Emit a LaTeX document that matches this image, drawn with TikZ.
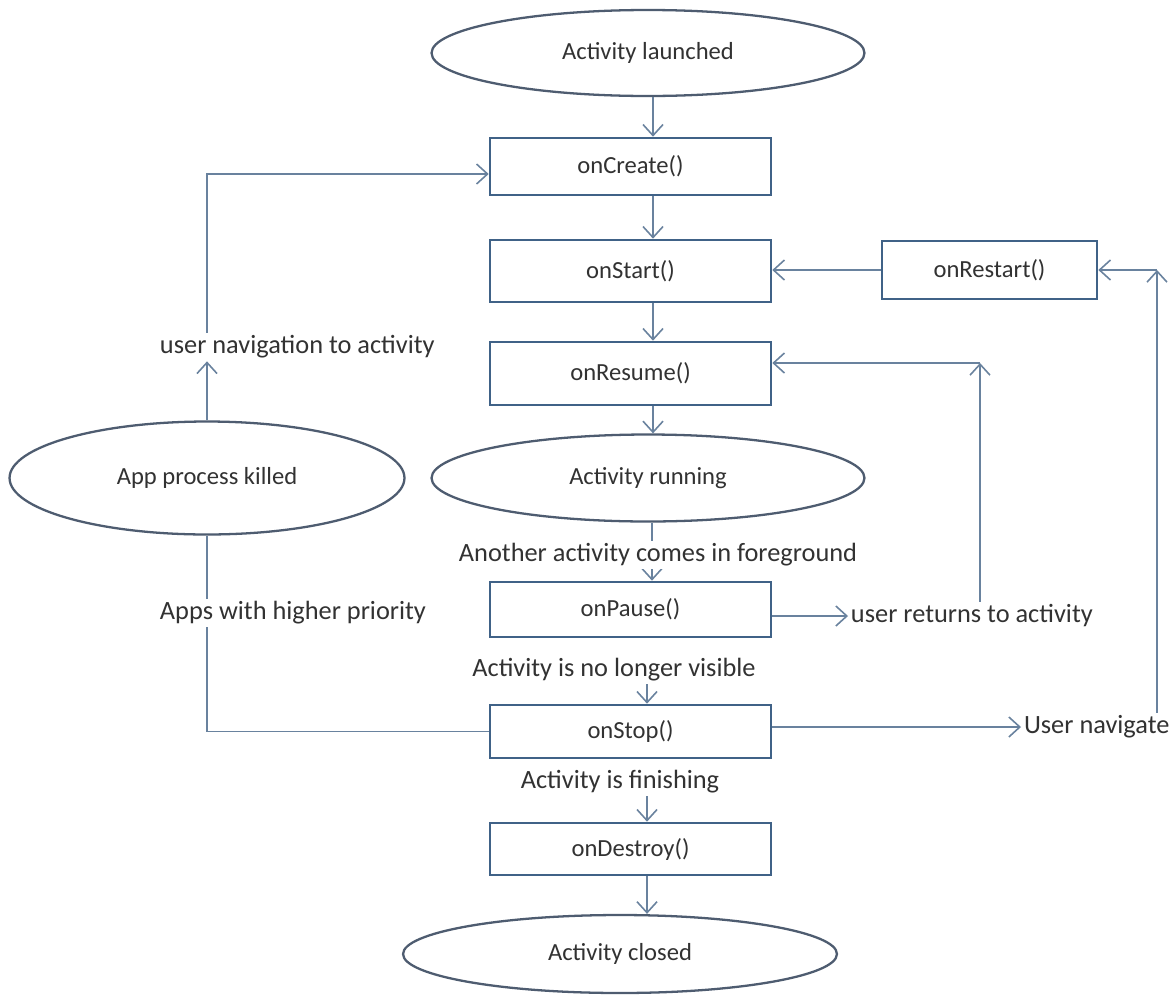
\documentclass[tikz,border=0pt]{standalone}
\usepackage{fontspec}
\setmainfont{Carlito}
\usetikzlibrary{shapes.geometric,arrows.meta}

\definecolor{boxline}{RGB}{64,98,135}
\definecolor{ovalline}{RGB}{78,92,112}
\definecolor{wire}{RGB}{105,130,158}
\definecolor{ink}{RGB}{50,50,50}

\tikzset{
  box/.style={draw=boxline, line width=1.5pt, fill=white, text=ink,
    minimum width=5.62cm, font=\fontsize{14}{17}\selectfont},
  oval/.style={ellipse, draw=ovalline, line width=1.3pt, fill=white, text=ink,
    inner sep=0pt, font=\fontsize{14}{17}\selectfont},
  lbl/.style={fill=white, text=ink, inner sep=1.5pt, font=\fontsize{15}{18}\selectfont},
  link/.style={draw=wire, line width=0.9pt},
  arr/.style={link, -{Straight Barb[length=2.2mm,width=4mm]}}
}

\begin{document}
\begin{tikzpicture}[x=0.02cm, y=-0.02cm]
  \fill[white] (0,0) rectangle (1169,994);
  \useasboundingbox (0,0) rectangle (1169,994);

  % Main column
  \node[oval, minimum width=8.66cm, minimum height=1.72cm] (launch) at (648,53) {Activity launched};
  \node[box, minimum height=1.14cm] (create) at (630.5,166.5) {onCreate()};
  \node[box, minimum height=1.24cm] (start) at (630.5,271) {onStart()};
  \node[box, minimum height=1.26cm] (resume) at (630.5,373.5) {onResume()};
  \node[oval, minimum width=8.66cm, minimum height=1.74cm] (run) at (648,478) {Activity running};
  \node[box, minimum height=1.1cm] (pause) at (630.5,609.5) {onPause()};
  \node[box, minimum height=1.06cm] (stop) at (630.5,731.5) {onStop()};
  \node[box, minimum height=1.04cm] (destroy) at (630.5,849) {onDestroy()};
  \node[oval, minimum width=8.68cm, minimum height=1.56cm] (closed) at (620,954) {Activity closed};

  % Side nodes
  \node[box, minimum width=4.3cm, minimum height=1.16cm] (restart) at (989.5,270) {onRestart()};
  \node[oval, minimum width=7.9cm, minimum height=2.26cm] (apk) at (207,478) {App process killed};

  % Axes of the vertical arrows
  \coordinate (axA) at (653,0);
  \coordinate (axB) at (647,0);
  \coordinate (axC) at (652,0);

  % Downward flow
  \draw[arr] (axA |- launch.south) -- (axA |- create.north);
  \draw[arr] (axA |- create.south) -- (axA |- start.north);
  \draw[arr] (axA |- start.south) -- (axA |- resume.north);
  \draw[arr] (axA |- resume.south) -- (axA |- run.north);
  \draw[arr] (axC |- run.south) -- (axC |- pause.north);
  \node[lbl] (fg) at (658,555) {Another activity comes in foreground};
  \node[lbl] (nvis) at (614,670) {Activity is no longer visible};
  \draw[arr] (axB |- nvis.south) -- (axB |- stop.north);
  \node[lbl] (fin) at (620,782) {Activity is finishing};
  \draw[arr] (axB |- fin.south) -- (axB |- destroy.north);
  \draw[arr] (axB |- destroy.south) -- (axB |- closed.north);

  % Restart loop
  \node[lbl, anchor=west] (unav) at (1021,727) {User navigate};
  \coordinate (ntop) at (1157,270);
  \draw[arr] (stop.east |- unav.west) -- (unav.west);
  \draw[arr] (unav.north -| ntop) -- (ntop);
  \draw[arr] (ntop) -- (restart.east);
  \draw[arr] (restart.west) -- (restart.west -| start.east);

  % Resume loop
  \node[lbl, anchor=west] (uret) at (848,616) {user returns to activity};
  \coordinate (rtop) at (980,363);
  \draw[arr] (pause.east |- uret.west) -- (uret.west);
  \draw[arr] (uret.north -| rtop) -- (rtop);
  \draw[arr] (rtop) -- (rtop -| resume.east);

  % Process killed loop
  \draw[link] (stop.west) -| (apk.south);
  \node[lbl, anchor=west] (prio) at (157,613) {Apps with higher priority};
  \node[lbl, anchor=west] (nav) at (157,347) {user navigation to activity};
  \draw[arr] (apk.north) -- (apk.north |- nav.south);
  \draw[arr] (apk.north |- nav.north) |- ([yshift=-0.15cm]create.west);
\end{tikzpicture}
\end{document}
